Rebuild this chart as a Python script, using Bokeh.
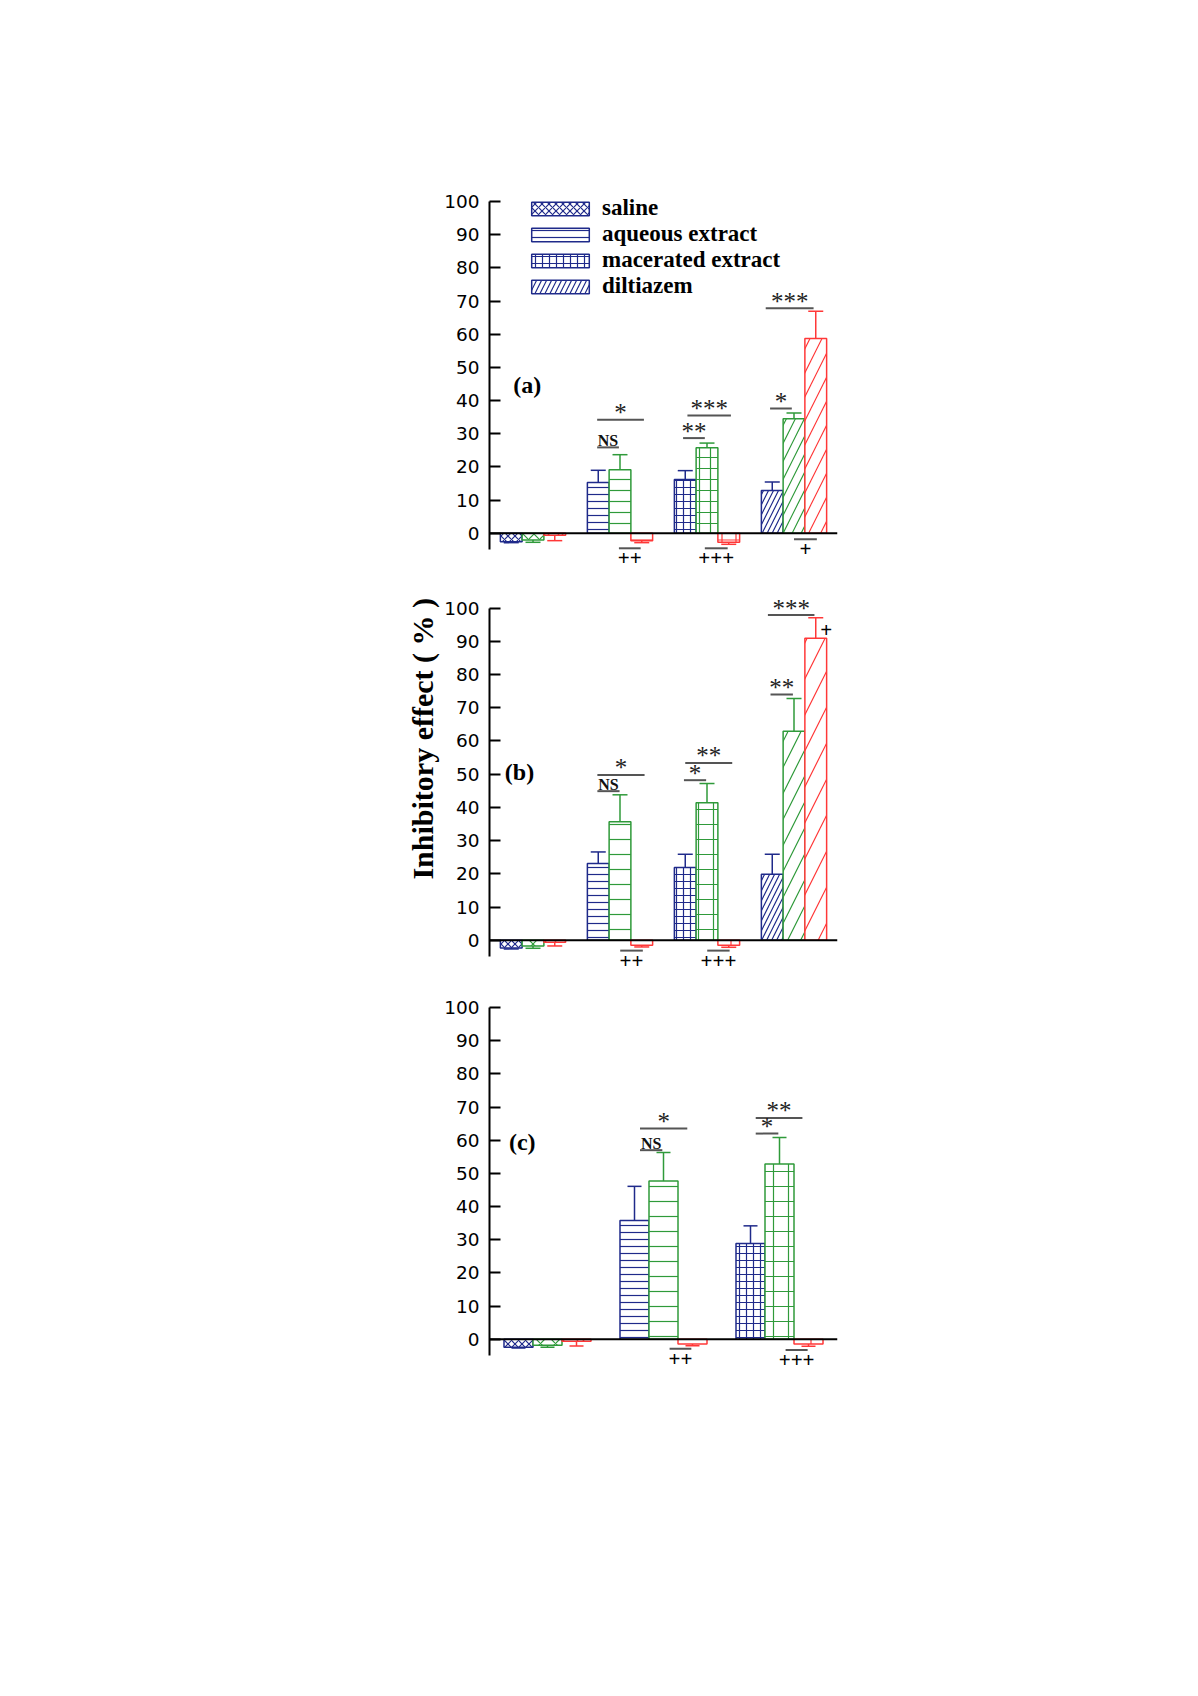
from bokeh.plotting import figure
from bokeh.layouts import column
from bokeh.models import (ColumnDataSource, Range1d, FixedTicker, Span,
                          Legend, LegendItem)
from bokeh.embed import file_html
from bokeh.resources import INLINE
from bokeh.core.properties import value

# ---------------- data ----------------
groups = ["saline", "aqueous extract", "macerated extract", "diltiazem"]
patterns = ["diagonal_cross", "horizontal_line", "cross", "right_diagonal_line"]
series_colors = ["#1f2a8a", "#2f9a3a", "#ff3838"]

# panel (a)
a_blue = [-2.5, 15.3, 16.2, 12.9]
a_blue_err = [0.3, 3.7, 2.7, 2.6]
a_green = [-2.0, 19.2, 25.8, 34.5]
a_green_err = [0.7, 4.5, 1.4, 1.8]
a_red = [-0.6, -2.2, -2.7, 58.7]
a_red_err = [1.6, 0.6, 0.6, 8.2]

# panel (b)
b_blue = [-2.3, 23.1, 21.9, 19.9]
b_blue_err = [0.3, 3.5, 4.0, 6.0]
b_green = [-1.7, 35.7, 41.4, 62.9]
b_green_err = [0.7, 8.1, 5.8, 9.9]
b_red = [-0.6, -1.5, -1.5, 90.9]
b_red_err = [1.1, 0.5, 0.6, 6.2]

# panel (c) (no diltiazem group)
c_blue = [-2.4, 35.8, 28.9]
c_blue_err = [0.2, 10.3, 5.3]
c_green = [-1.8, 47.7, 52.8]
c_green_err = [0.6, 8.6, 8.0]
c_red = [-0.6, -1.4, -1.4]
c_red_err = [1.4, 0.5, 0.7]

# significance annotations: (x0, x1, y, text)
a_sig_above = [(4.45, 5.45, 25.9, "NS"), (4.45, 6.6, 34.2, "*"),
               (8.4, 9.4, 28.7, "**"), (8.6, 10.6, 35.5, "***"),
               (12.4, 13.4, 37.6, "*"), (12.2, 14.4, 67.8, "***")]
a_sig_below = [(5.45, 6.45, -4.5, "++"), (9.4, 10.45, -4.5, "+++"),
               (13.5, 14.55, -1.8, "+")]
b_sig_above = [(4.46, 5.48, 44.9, "NS"), (4.46, 6.63, 49.8, "*"),
               (8.44, 9.46, 48.2, "*"), (8.5, 10.66, 53.4, "**"),
               (12.42, 13.45, 74.0, "**"), (12.3, 14.44, 97.9, "***")]
b_sig_below = [(5.51, 6.55, -3.1, "++"), (9.51, 10.54, -3.1, "+++")]
b_extra = [(14.98, 93.5, "+")]
c_sig_above = [(4.69, 5.46, 57.0, "NS"), (4.69, 6.32, 63.5, "*"),
               (8.68, 9.46, 62.0, "*"), (8.68, 10.29, 66.7, "**")]
c_sig_below = [(5.71, 6.46, -2.8, "++"), (9.71, 10.47, -3.2, "+++")]

ticks = list(range(0, 101, 10))
y_title = "Inhibitory effect ( % )"

SERIF = "Liberation Serif"
SANS = "DejaVu Sans"
W_FRAME = 348


def make_panel(ngroups, vals, errs, hscales, y_end, frame_h, top_border,
               bottom_border, sig_above, sig_below, tag, tag_xy, cap_px):
    p = figure(title=None, output_backend="svg", toolbar_location=None,
               frame_width=W_FRAME, frame_height=frame_h,
               x_range=Range1d(-0.5, 4 * ngroups - 0.5),
               y_range=Range1d(-13, y_end),
               min_border_left=489, min_border_right=80,
               min_border_top=top_border, min_border_bottom=bottom_border,
               background_fill_color="white", border_fill_color="white")
    p.outline_line_color = None
    p.xgrid.visible = False
    p.ygrid.visible = False
    p.xaxis.visible = False
    ya = p.yaxis[0]
    ya.ticker = FixedTicker(ticks=ticks)
    ya.bounds = (-5, 100)
    ya.major_tick_in = 11
    ya.major_tick_out = 0
    ya.minor_tick_line_color = None
    ya.axis_line_width = 2
    ya.major_tick_line_width = 2
    ya.axis_line_color = "black"
    ya.major_tick_line_color = "black"
    ya.major_label_text_font = SANS
    ya.major_label_text_font_size = "18.5px"
    ya.major_label_text_color = "black"
    ya.major_label_standoff = 10

    xs, tops, cols, pats, scs = [], [], [], [], []
    ex0, ey0, ey1, ecol = [], [], [], []
    for g in range(ngroups):
        for k in range(3):
            v = vals[k][g]
            e = errs[k][g]
            x = 4 * g + k + 0.5
            xs.append(x)
            tops.append(v)
            cols.append(series_colors[k])
            pats.append(patterns[g])
            scs.append(hscales[k][1] if "diagonal_line" in patterns[g]
                       else hscales[k][0])
            ex0.append(x)
            ey0.append(v)
            ey1.append(v + e if v >= 0 else v - e)
            ecol.append(series_colors[k])
    src = ColumnDataSource(dict(x=xs, top=tops, color=cols, pat=pats, sc=scs))
    bars = p.vbar(x="x", top="top", bottom=0, width=1.0, source=src,
                  fill_color="white", line_color="color", line_width=1.5,
                  hatch_pattern="pat", hatch_color="color", hatch_scale="sc",
                  hatch_weight=1.2)
    p.segment(x0=ex0, y0=ey0, x1=ex0, y1=ey1, line_color=ecol, line_width=1.5)
    p.scatter(x=ex0, y=ey1, marker="dash", size=cap_px, line_color=ecol,
              line_width=1.5)
    p.add_layout(Span(location=0, dimension="width", line_color="black",
                      line_width=2))

    # significance lines
    sx0 = [s[0] for s in sig_above + sig_below]
    sx1 = [s[1] for s in sig_above + sig_below]
    sy = [s[2] for s in sig_above + sig_below]
    p.segment(x0=sx0, y0=sy, x1=sx1, y1=sy, line_color="#555555", line_width=2)
    for x0, x1, y, t in sig_above:
        if t == "NS":
            p.text(x=[(x0 + x1) / 2], y=[y], text=[t], text_font=value(SERIF),
                   text_font_style="bold", text_font_size="16px",
                   text_align="center", text_baseline="middle",
                   y_offset=-7, text_color="#111111")
        else:
            p.text(x=[(x0 + x1) / 2], y=[y], text=[t], text_font=value(SERIF),
                   text_font_size="25px", text_align="center",
                   text_baseline="middle", y_offset=-7,
                   text_color="#222222")
    for x0, x1, y, t in sig_below:
        p.text(x=[(x0 + x1) / 2], y=[y], text=[t], text_font=value(SERIF),
               text_font_style="bold", text_font_size="21px",
               text_align="center", text_baseline="middle", y_offset=10,
               text_color="black")
    p.text(x=[tag_xy[0]], y=[tag_xy[1]], text=[tag], text_font=value(SERIF),
           text_font_style="bold", text_font_size="24px", text_align="center",
           text_baseline="middle", text_color="black")
    return p, bars


pa, bars_a = make_panel(4, [a_blue, a_green, a_red],
                        [a_blue_err, a_green_err, a_red_err],
                        [(7, 10), (11, 18), (14, 24)],
                        103, 385, 191, 0, a_sig_above, a_sig_below, "(a)",
                        (1.23, 44.8), 15)
legend = Legend(items=[LegendItem(label=grp, renderers=[bars_a], index=3 * g)
                       for g, grp in enumerate(groups)],
                location=(35, 277), glyph_width=72, glyph_height=17,
                label_standoff=6, spacing=0, padding=0, margin=0,
                border_line_color=None, background_fill_alpha=0,
                label_text_font=SERIF, label_text_font_style="bold",
                label_text_font_size="23px", label_text_color="black")
pa.add_layout(legend)

pb, bars_b = make_panel(4, [b_blue, b_green, b_red],
                        [b_blue_err, b_green_err, b_red_err],
                        [(7, 10), (15, 26), (20, 36)],
                        105, 392, 15, 0, b_sig_above, b_sig_below, "(b)",
                        (0.88, 50.7), 15)
for x, y, t in b_extra:
    pb.text(x=[x], y=[y], text=[t], text_font=value(SERIF),
            text_font_style="bold", text_font_size="21px", text_align="center",
            text_baseline="middle", text_color="black")
pb.yaxis.axis_label = "\u00a0" * 13 + y_title
pb.yaxis.axis_label_text_font = SERIF
pb.yaxis.axis_label_text_font_style = "bold"
pb.yaxis.axis_label_text_font_size = "30px"
pb.yaxis.axis_label_text_color = "black"
pb.yaxis.axis_label_standoff = 2

pc, bars_c = make_panel(3, [c_blue, c_green, c_red],
                        [c_blue_err, c_green_err, c_red_err],
                        [(7, 10), (15, 26), (20, 36)],
                        103, 385, 14, 20, c_sig_above, c_sig_below, "(c)",
                        (0.63, 59.5), 14)

layout = column(pa, pb, pc)
open("out.html", "w").write(file_html(layout, INLINE))
